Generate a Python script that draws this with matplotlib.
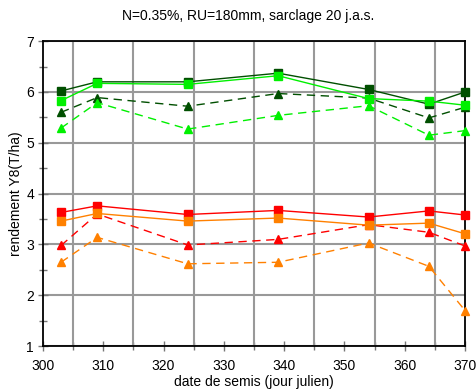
import matplotlib
matplotlib.use("Agg")
import matplotlib.pyplot as plt
from matplotlib.ticker import MultipleLocator

plt.rcParams['font.family'] = ['Liberation Sans', 'DejaVu Sans']

# sowing dates (julian day)
dates = [303, 309, 324, 339, 354, 364, 370]

# yields Y8 (T/ha)
dkgreen_sq = [6.02, 6.20, 6.20, 6.37, 6.05, 5.76, 6.00]
ltgreen_sq = [5.83, 6.17, 6.15, 6.32, 5.87, 5.82, 5.74]
dkgreen_tri = [5.60, 5.89, 5.72, 5.97, 5.88, 5.49, 5.70]
ltgreen_tri = [5.29, 5.79, 5.27, 5.54, 5.73, 5.15, 5.24]
red_sq = [3.63, 3.76, 3.59, 3.67, 3.54, 3.66, 3.58]
orange_sq = [3.46, 3.61, 3.46, 3.52, 3.38, 3.42, 3.21]
red_tri = [2.98, 3.60, 2.99, 3.10, 3.39, 3.24, 2.97]
orange_tri = [2.65, 3.14, 2.62, 2.65, 3.03, 2.57, 1.70]

title = "N=0.35%, RU=180mm, sarclage 20 j.a.s."
xlabel = "date de semis (jour julien)"
ylabel = "rendement Y8(T/ha)"

fig = plt.figure(figsize=(4.77, 3.92), dpi=100)
ax = fig.add_axes([0.090, 0.117, 0.885, 0.778])

dash = (0, (6, 4))
series = [
    (dkgreen_tri, '#004f00', '^', dash),
    (ltgreen_tri, '#00f000', '^', dash),
    (red_tri, '#ff0000', '^', dash),
    (orange_tri, '#ff8000', '^', dash),
    (dkgreen_sq, '#004f00', 's', '-'),
    (ltgreen_sq, '#00f000', 's', '-'),
    (red_sq, '#ff0000', 's', '-'),
    (orange_sq, '#ff8000', 's', '-'),
]
for vals, col, mk, ls in series:
    ax.plot(dates, vals, color=col, marker=mk, linestyle=ls, linewidth=1.0,
            markersize=6.0, clip_on=False, zorder=3)

ax.set_xlim(300, 370)
ax.set_ylim(1, 7)
ax.xaxis.set_major_locator(MultipleLocator(10))
ax.xaxis.set_minor_locator(MultipleLocator(5))
ax.yaxis.set_major_locator(MultipleLocator(1))
ax.yaxis.set_minor_locator(MultipleLocator(0.5))

for x in range(305, 370, 10):
    ax.axvline(x, color='#999999', linewidth=1.5, zorder=1)
ax.grid(axis='y', which='major', color='#999999', linewidth=1.5, zorder=1)
ax.set_axisbelow(True)

ax.tick_params(which='both', direction='inout', color='#777777',
               labelsize=10, pad=3)
ax.tick_params(which='major', length=7, width=1)
ax.tick_params(which='minor', length=6, width=1)
ax.tick_params(axis='x', pad=6)

for s in ax.spines.values():
    s.set_linewidth(1.3)
    s.set_color('black')

ax.set_xlabel(xlabel, fontsize=10, labelpad=1)
ax.set_ylabel(ylabel, fontsize=10, labelpad=2)
fig.text(0.52, 0.96, title, ha='center', va='center', fontsize=10)

fig.savefig("out.png", dpi=100)
